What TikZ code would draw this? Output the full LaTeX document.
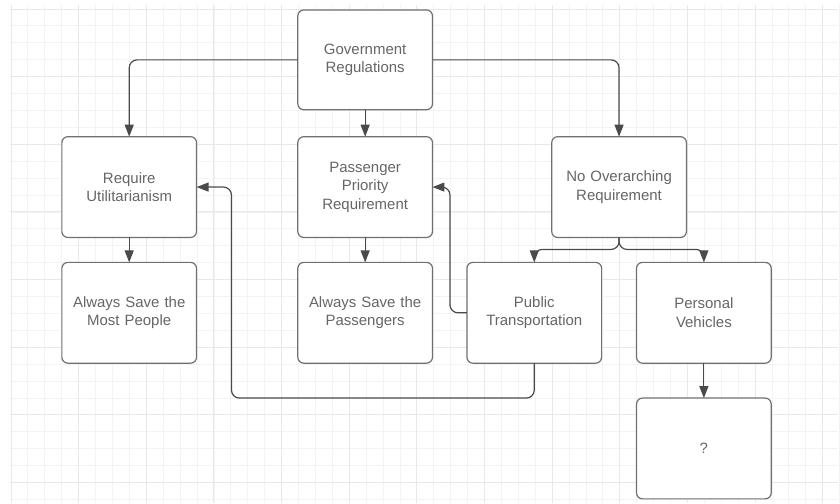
\documentclass[tikz,border=0pt]{standalone}
\usepackage{fontspec}
\setmainfont{Liberation Sans}
\usetikzlibrary{arrows.meta}

\definecolor{gridminor}{HTML}{F3F3F3}
\definecolor{gridmajor}{HTML}{E8E8E8}
\definecolor{boxline}{HTML}{707070}
\definecolor{boxtext}{HTML}{666666}
\definecolor{linkline}{HTML}{4A4A4A}

\begin{document}
\begin{tikzpicture}[
  x=1pt, y=-1pt,
  box/.style={
    draw=boxline, line width=1.2pt, fill=white,
    rounded corners=6pt,
    minimum width=135pt, minimum height=101pt,
    inner sep=0pt, outer sep=0pt,
    text width=125pt, align=center,
    text=boxtext, font=\fontsize{15}{18.5}\selectfont,
  },
  link/.style={
    draw=linkline, line width=1.2pt, rounded corners=8pt,
    -{Triangle[length=12pt,width=9pt]},
  },
]

\fill[white] (0,0) rectangle (840,504);
\foreach \k in {0,...,49} {
  \draw[gridminor, line width=0.8pt] (11+16.95*\k,5) -- (11+16.95*\k,504);
}
\foreach \k in {0,...,29} {
  \draw[gridminor, line width=0.8pt] (10,9+16.95*\k) -- (840,9+16.95*\k);
}
\foreach \k in {0,...,12} {
  \draw[gridmajor, line width=0.9pt] (11+67.8*\k,5) -- (11+67.8*\k,504);
}
\foreach \k in {0,...,7} {
  \draw[gridmajor, line width=0.9pt] (10,9+67.8*\k) -- (840,9+67.8*\k);
}

\node[box, minimum height=100pt] (gov) at (366,60) {Government\\Regulations};
\node[box] (util) at (129.5,187.5) {Require\\Utilitarianism};
\node[box] (prio) at (366,187.5) {Passenger\\Priority\\Requirement};
\node[box] (none) at (620.5,187.5) {No Overarching\\Requirement};
\node[box] (most) at (129.5,313.5) {Always Save the\\Most People};
\node[box] (pass) at (366,313.5) {Always Save the\\Passengers};
\node[box] (pub) at (535.5,313.5) {Public\\Transportation};
\node[box] (pers) at (705.5,313.5) {Personal\\Vehicles};
\node[box] (unk) at (705.5,449.5) {?};

\draw[link] (gov.west) -| (util.north);
\draw[link] (gov.east) -| (none.north);
\draw[link] (gov) -- (prio);
\draw[link] (util) -- (most);
\draw[link] (prio) -- (pass);
\draw[link] (pers) -- (unk);
\draw[link] (none.south) -- ++(0,12) -| (pub.north);
\draw[link] (none.south) -- ++(0,12) -| (pers.north);
\draw[link] (pub.west) -- ++(-17,0) |- (prio.east);
\draw[link] (pub.south) -- ++(0,35) -| ([xshift=35pt]util.east) -- (util.east);

\end{tikzpicture}
\end{document}
